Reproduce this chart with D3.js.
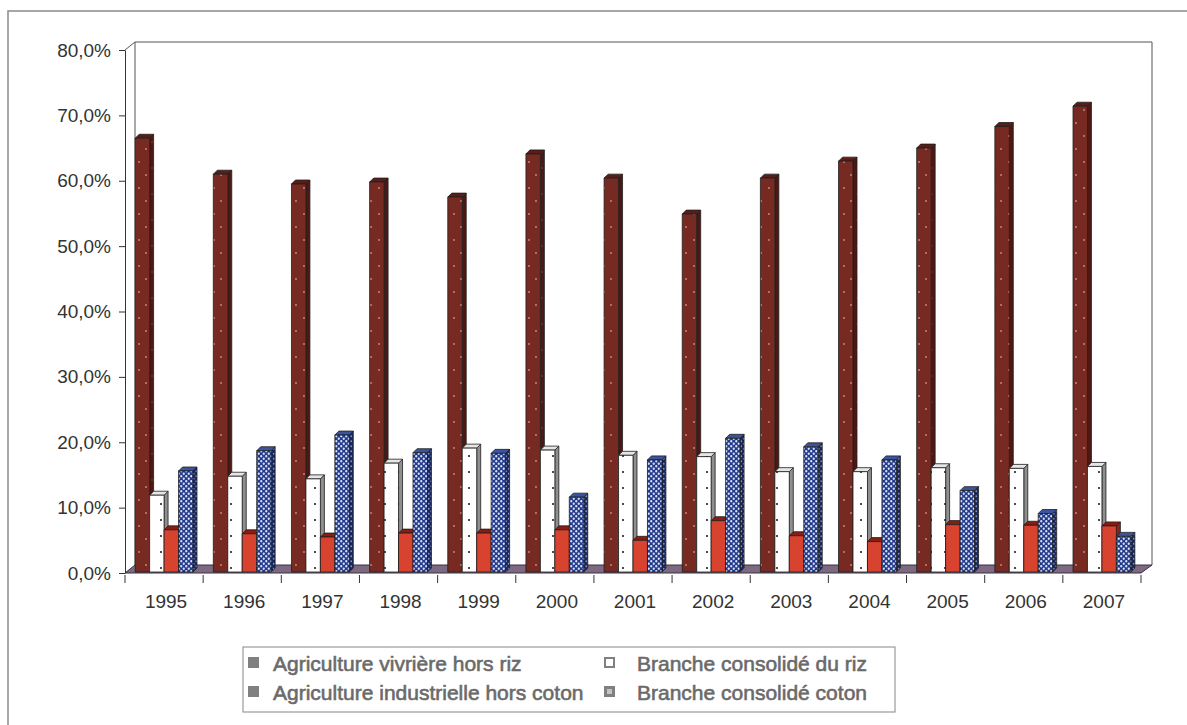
<!DOCTYPE html>
<html>
<head>
<meta charset="utf-8">
<script src="https://cdn.jsdelivr.net/npm/d3@7"></script>
<style>
  html, body { margin: 0; padding: 0; background: #fff; }
  svg { display: block; }
  text { font-family: Arial, "Liberation Sans", sans-serif; }
</style>
</head>
<body>
<svg id="chart" width="1187" height="725"></svg>
<script>
// Years on the category axis
const years = ["1995","1996","1997","1998","1999","2000","2001","2002","2003","2004","2005","2006","2007"];

// Series names (legend order)
const seriesNames = [
  "Agriculture vivrière hors riz",
  "Branche consolidé du riz",
  "Agriculture industrielle hors coton",
  "Branche consolidé coton"
];

// Shares in percent, one array per series
const vivriere   = [66.5, 61.0, 59.5, 59.8, 57.5, 64.1, 60.4, 54.9, 60.4, 63.0, 65.0, 68.3, 71.4];
const rizConsol  = [11.9, 14.8, 14.4, 16.8, 19.1, 18.8, 18.0, 17.8, 15.5, 15.5, 16.1, 16.0, 16.3];
const industr    = [6.6, 6.0, 5.5, 6.1, 6.1, 6.6, 5.0, 8.0, 5.7, 4.8, 7.4, 7.3, 7.2];
const cotonConsol= [15.6, 18.7, 21.1, 18.4, 18.3, 11.6, 17.3, 20.6, 19.3, 17.3, 12.6, 9.1, 5.6];

// Value-axis ticks
const yTicks = [0, 10, 20, 30, 40, 50, 60, 70, 80];

const seriesValues = [vivriere, rizConsol, industr, cotonConsol];

const svg = d3.select("#chart");
const defs = svg.append("defs");

// Fill patterns for the column faces
function dotPattern(id, w, h, bg, dots, dotColor, r) {
  const p = defs.append("pattern")
    .attr("id", id).attr("patternUnits", "userSpaceOnUse")
    .attr("width", w).attr("height", h);
  p.append("rect").attr("width", w).attr("height", h).attr("fill", bg);
  dots.forEach(([cx, cy]) => p.append("circle").attr("cx", cx).attr("cy", cy).attr("r", r).attr("fill", dotColor));
}
dotPattern("pMaroon", 15, 26, "#772a22", [[4, 6], [11, 19]], "#c98f86", 0.9);
dotPattern("pMaroonSide", 15, 26, "#4d1813", [[2, 12]], "#8a5048", 0.7);
dotPattern("pWhite", 14, 16, "#ffffff", [[7, 8]], "#222", 1.1);
dotPattern("pBlue", 5, 5, "#24398a", [[1.25, 1.25], [3.75, 3.75]], "#d6e2f6", 1.15);
dotPattern("pBlueSide", 5, 5, "#18265c", [[1.25, 1.25], [3.75, 3.75]], "#7f95c4", 0.9);

const faceStyles = [
  { front: "url(#pMaroon)", side: "url(#pMaroonSide)", top: "#5a1d17" },
  { front: "url(#pWhite)",  side: "#8f8f8f",           top: "#e6e6e6" },
  { front: "#d8432f",       side: "#8e2216",           top: "#8a1d12" },
  { front: "url(#pBlue)",   side: "url(#pBlueSide)",   top: "#3b54a0" }
];

// Plot geometry
const xFront0 = 125, xFront1 = 1141;
const depthX = 10, depthY = -8;     // wall / floor depth
const barDX = 4, barDY = -4;        // column depth

const x = d3.scaleBand().domain(years).range([xFront0, xFront1])
  .paddingInner(0.26).paddingOuter(0.13);
const xs = d3.scaleBand().domain(d3.range(seriesNames.length)).range([0, x.bandwidth()]);
const y = d3.scaleLinear().domain([0, 80]).range([573, 50]);

const fmt = d3.formatLocale({ decimal: ",", thousands: " ", grouping: [3], currency: ["", " €"] }).format(".1f");

// Outer frame
svg.append("rect").attr("x", 8).attr("y", 11).attr("width", 1250).attr("height", 800)
  .attr("fill", "none").attr("stroke", "#8a8a8a").attr("stroke-width", 1.5);

// Walls
const wall = svg.append("g").attr("fill", "none").attr("stroke", "#555").attr("stroke-width", 1);
wall.append("path").attr("d",
  `M${xFront0},${y(80)} L${xFront0 + depthX},${y(80) + depthY} L${xFront1 + depthX + 1},${y(80) + depthY} L${xFront1 + depthX + 1},${y(0) + depthY}`);
wall.append("line")
  .attr("x1", xFront0 + depthX).attr("y1", y(80) + depthY)
  .attr("x2", xFront0 + depthX).attr("y2", y(0) + depthY);

// Floor
svg.append("path")
  .attr("d", `M${xFront0},${y(0)} L${xFront1},${y(0)} L${xFront1 + depthX + 1},${y(0) + depthY} L${xFront0 + depthX},${y(0) + depthY} Z`)
  .attr("fill", "#7d6a82").attr("stroke", "#3a3040").attr("stroke-width", 1);

// Value axis
const yAxis = svg.append("g").attr("transform", `translate(${xFront0},0)`)
  .call(d3.axisLeft(y).tickValues(yTicks).tickSize(6).tickSizeOuter(0).tickPadding(8)
    .tickFormat(d => fmt(d) + "%"));
yAxis.select(".domain").attr("stroke", "#333");
yAxis.selectAll(".tick line").attr("stroke", "#333");
yAxis.selectAll(".tick text").attr("font-size", 19).attr("fill", "#333")
  .attr("font-family", "Arial, 'Liberation Sans', sans-serif");

// Category ticks at group boundaries
const gap = (x.step() - x.bandwidth()) / 2;
const boundaries = years.map(d => x(d) - gap).concat([x(years[years.length - 1]) + x.bandwidth() + gap]);
svg.append("g").selectAll("line").data(boundaries).join("line")
  .attr("x1", d => d).attr("x2", d => d)
  .attr("y1", y(0) + 2).attr("y2", y(0) + 10)
  .attr("stroke", "#333");

// Category labels
svg.append("g").selectAll("text").data(years).join("text")
  .attr("x", d => x(d) + x.bandwidth() / 2 + 2)
  .attr("y", 601)
  .attr("text-anchor", "middle").attr("dominant-baseline", "central")
  .attr("font-size", 19).attr("fill", "#333")
  .text(d => d);

// 3D columns, drawn left to right so each column hides its neighbour's side face
const bars = svg.append("g").attr("stroke", "#1e1e1e").attr("stroke-width", 0.8).attr("stroke-linejoin", "round");
years.forEach((yr, i) => {
  seriesValues.forEach((vals, s) => {
    const x0 = x(yr) + xs(s);
    const w = xs.bandwidth();
    const yt = y(vals[i]);
    const yb = y(0) - 1;
    const st = faceStyles[s];
    const g = bars.append("g");
    g.append("path")
      .attr("d", `M${x0 + w},${yt} L${x0 + w + barDX},${yt + barDY} L${x0 + w + barDX},${yb + barDY} L${x0 + w},${yb} Z`)
      .attr("fill", st.side);
    g.append("path")
      .attr("d", `M${x0},${yt} L${x0 + barDX},${yt + barDY} L${x0 + w + barDX},${yt + barDY} L${x0 + w},${yt} Z`)
      .attr("fill", st.top);
    g.append("rect")
      .attr("x", x0).attr("y", yt).attr("width", w).attr("height", yb - yt)
      .attr("fill", st.front);
  });
});

// Legend
const legend = svg.append("g");
legend.append("rect").attr("x", 243).attr("y", 647).attr("width", 652).attr("height", 65)
  .attr("fill", "#fff").attr("stroke", "#9a9a9a").attr("stroke-width", 1.2);

const legendPos = [
  { mx: 248, tx: 273, yc: 663 },
  { mx: 604, tx: 637, yc: 663 },
  { mx: 248, tx: 273, yc: 692 },
  { mx: 604, tx: 637, yc: 692 }
];
const lg = legend.selectAll("g.item").data(seriesNames).join("g").attr("class", "item");
lg.each(function(name, i) {
  const g = d3.select(this);
  const p = legendPos[i];
  if (i === 1) {
    g.append("rect").attr("x", p.mx + 1).attr("y", p.yc - 5).attr("width", 9).attr("height", 9)
      .attr("fill", "#fff").attr("stroke", "#808080").attr("stroke-width", 2);
  } else if (i === 3) {
    g.append("rect").attr("x", p.mx).attr("y", p.yc - 6).attr("width", 11).attr("height", 11)
      .attr("fill", "#808080");
    g.append("rect").attr("x", p.mx + 3).attr("y", p.yc - 3).attr("width", 5).attr("height", 5)
      .attr("fill", "#c4c4c4");
  } else {
    g.append("rect").attr("x", p.mx).attr("y", p.yc - 6).attr("width", 11).attr("height", 11)
      .attr("fill", "#808080");
  }
  g.append("text").attr("x", p.tx).attr("y", p.yc).attr("dominant-baseline", "central")
    .attr("font-size", 21).attr("fill", "#6a6a6a")
    .attr("stroke", "#6a6a6a").attr("stroke-width", 0.6)
    .text(name);
});
</script>
</body>
</html>
